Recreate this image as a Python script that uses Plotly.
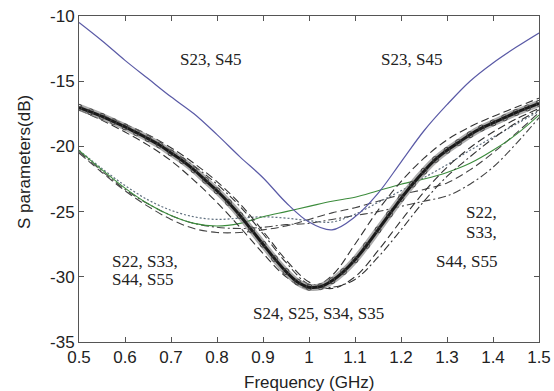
import plotly.graph_objects as go

# ---- data ----
freq = [0.5, 0.55, 0.6, 0.65, 0.7, 0.75, 0.8, 0.85, 0.9, 0.95, 1.0,
        1.05, 1.1, 1.15, 1.2, 1.25, 1.3, 1.35, 1.4, 1.45, 1.5]

# S23, S45 (blue solid)
s23 = [-10.5, -11.9, -13.4, -14.8, -16.2, -17.5, -19.1, -20.8, -22.4, -24.3, -25.8,
       -26.4, -25.4, -23.6, -21.2, -18.8, -16.8, -15.0, -13.6, -12.4, -11.3]

# S24/S25/S34/S35 (thick black with circles), finer sampling
freq_fine = [0.5, 0.525, 0.55, 0.575, 0.6, 0.625, 0.65, 0.675, 0.7, 0.725, 0.75,
             0.775, 0.8, 0.825, 0.85, 0.875, 0.9, 0.925, 0.95, 0.975, 1.0,
             1.025, 1.05, 1.075, 1.1, 1.125, 1.15, 1.175, 1.2, 1.225, 1.25,
             1.275, 1.3, 1.325, 1.35, 1.375, 1.4, 1.425, 1.45, 1.475, 1.5]
s24 = [-17.0, -17.35, -17.7, -18.1, -18.5, -18.95, -19.4, -19.9, -20.5, -21.1, -21.8,
       -22.6, -23.4, -24.3, -25.3, -26.4, -27.5, -28.6, -29.6, -30.4, -30.8,
       -30.75, -30.3, -29.6, -28.7, -27.6, -26.4, -25.2, -24.0, -22.9, -21.9,
       -21.0, -20.3, -19.7, -19.1, -18.6, -18.2, -17.8, -17.4, -17.05, -16.7]
s25 = [-17.2, -18.0, -18.9, -19.9, -21.1, -22.6, -24.3, -26.2, -28.2, -30.0, -30.9,
       -29.9, -27.5, -24.9, -22.7, -20.9, -19.5, -18.5, -17.7, -17.0, -16.3]
s34 = [-17.0, -17.6, -18.3, -19.1, -20.1, -21.3, -22.7, -24.4, -26.5, -28.7, -30.4,
       -30.9, -30.0, -28.0, -25.7, -23.5, -21.6, -20.1, -18.9, -17.9, -17.1]
s35 = [-17.1, -17.7, -18.4, -19.3, -20.3, -21.5, -22.9, -24.6, -26.7, -28.9, -30.6,
       -30.8, -30.2, -28.5, -26.4, -24.2, -22.3, -20.8, -19.4, -18.2, -17.2]

# S22/S33/S44/S55 group
s22 = [-20.3, -21.8, -23.2, -24.4, -25.3, -25.9, -26.1, -25.9, -25.4, -25.0, -24.6,
       -24.2, -23.9, -23.4, -22.9, -22.5, -22.0, -21.3, -20.3, -19.1, -17.6]
s33 = [-20.3, -21.7, -23.0, -24.1, -24.9, -25.4, -25.6, -25.5, -25.4, -25.5, -25.7,
       -25.8, -25.2, -24.3, -23.4, -22.4, -21.4, -20.3, -19.3, -18.3, -17.3]
s44 = [-20.5, -22.0, -23.4, -24.6, -25.6, -26.3, -26.6, -26.6, -26.4, -26.1, -25.6,
       -25.1, -24.7, -24.2, -23.7, -23.3, -22.8, -21.8, -20.5, -19.0, -17.4]
s55 = [-20.4, -21.9, -23.3, -24.4, -25.3, -25.9, -26.2, -26.3, -26.2, -26.0, -25.9,
       -25.6, -25.3, -25.0, -24.6, -24.2, -23.8, -22.9, -21.6, -19.8, -17.8]

x_ticks = [0.5, 0.6, 0.7, 0.8, 0.9, 1.0, 1.1, 1.2, 1.3, 1.4, 1.5]
x_tick_text = ["0.5", "0.6", "0.7", "0.8", "0.9", "1", "1.1", "1.2", "1.3", "1.4", "1.5"]
y_ticks = [-35, -30, -25, -20, -15, -10]
y_tick_text = ["-35", "-30", "-25", "-20", "-15", "-10"]

fig = go.Figure()

def add(x, y, color, width, dash=None, opacity=1.0):
    fig.add_trace(go.Scatter(x=x, y=y, mode="lines", opacity=opacity,
                             line=dict(color=color, width=width, dash=dash, shape="spline",
                                       smoothing=1.0),
                             showlegend=False, hoverinfo="skip"))

# group C
add(freq, s44, "#444444", 1.1, "8px,4px")
add(freq, s55, "#444444", 1.1, "8px,3px,2px,3px")
add(freq, s33, "#5f6f7f", 1.2, "2px,2px")
add(freq, s22, "#3c8c3c", 1.1)
# group B
add(freq, s25, "#333333", 1.1, "8px,4px")
add(freq, s34, "#333333", 1.1, "8px,4px")
add(freq, s35, "#333333", 1.1, "8px,3px,2px,3px")
add(freq_fine, s24, "#8a8a8a", 7, opacity=0.7)
fig.add_trace(go.Scatter(x=freq_fine, y=s24, mode="lines+markers",
                         line=dict(color="#1a1a1a", width=3, shape="spline"),
                         marker=dict(symbol="circle-open", size=6, color="#444444",
                                     line=dict(width=1)),
                         showlegend=False, hoverinfo="skip"))
# group A
add(freq, s23, "#5a5aa6", 1.2)

ann_font = dict(family="Liberation Serif, Times New Roman, serif", size=17, color="#222222")
annotations = [
    dict(x=0.785, y=-13.3, text="S23, S45", xanchor="center", yanchor="middle"),
    dict(x=1.222, y=-13.3, text="S23, S45", xanchor="center", yanchor="middle"),
    dict(x=0.567, y=-28.8, text="S22, S33,", xanchor="left", yanchor="middle"),
    dict(x=0.567, y=-30.2, text="S44, S55", xanchor="left", yanchor="middle"),
    dict(x=1.413, y=-25.1, text="S22,", xanchor="right", yanchor="middle"),
    dict(x=1.413, y=-26.6, text="S33,", xanchor="right", yanchor="middle"),
    dict(x=1.413, y=-28.8, text="S44, S55", xanchor="right", yanchor="middle"),
    dict(x=1.02, y=-32.8, text="S24, S25, S34, S35", xanchor="center", yanchor="middle"),
]
for a in annotations:
    a.update(xref="x", yref="y", showarrow=False, font=ann_font)

axis_font = dict(family="Liberation Sans, Arial, sans-serif", size=17, color="#222222")
annotations.append(dict(xref="paper", yref="paper", x=0.5, y=-0.1227,
                        text="Frequency (GHz)", showarrow=False,
                        xanchor="center", yanchor="middle", font=axis_font))
annotations.append(dict(xref="paper", yref="paper", x=-0.1196, y=0.552,
                        text="S parameters(dB)", showarrow=False, textangle=-90,
                        xanchor="center", yanchor="middle", font=axis_font))

tick_font = dict(family="Liberation Sans, Arial, sans-serif", size=17, color="#222222")
common = dict(showline=True, linecolor="#555555", linewidth=1, mirror="ticks",
              ticks="inside", ticklen=5, tickcolor="#555555", showgrid=False,
              zeroline=False, tickfont=tick_font, automargin=False)

fig.update_xaxes(range=[0.5, 1.5], tickvals=x_ticks, ticktext=x_tick_text, **common)
fig.update_yaxes(range=[-35, -10], tickvals=y_ticks, ticktext=y_tick_text, **common)

fig.update_layout(width=554, height=391, margin=dict(l=79, r=15, t=16, b=49),
                  paper_bgcolor="white", plot_bgcolor="white",
                  annotations=annotations)

fig.write_html("out.html")
